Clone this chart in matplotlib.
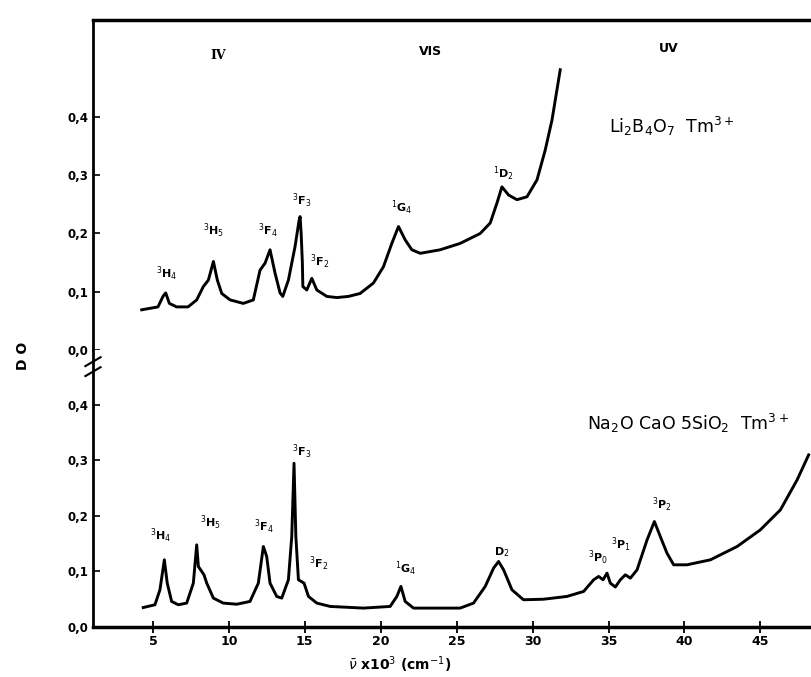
import numpy as np
import matplotlib
matplotlib.use("Agg")
import matplotlib.pyplot as plt

# Li2B4O7:Tm3+ spectrum (upper panel), wavenumber x10^3 cm-1 vs optical density
up_x = [4.26, 5.33, 5.66, 5.84, 6.08, 6.56, 7.31, 7.88, 8.32, 8.65, 8.98, 9.24,
        9.53, 10.08, 10.95, 11.61, 12.05, 12.38, 12.71, 13.04, 13.37, 13.55,
        13.92, 14.36, 14.62, 14.69, 14.76, 14.84, 14.87, 15.13, 15.46, 15.79,
        16.45, 17.11, 17.87, 18.64, 19.52, 20.18, 20.73, 21.17, 21.61, 22.05,
        22.60, 23.91, 25.23, 26.55, 27.21, 27.65, 27.98, 28.42, 28.97, 29.63,
        30.29, 30.83, 31.28, 31.60, 31.82]
up_y = [0.069, 0.074, 0.092, 0.098, 0.080, 0.074, 0.074, 0.086, 0.109, 0.120,
        0.152, 0.120, 0.097, 0.086, 0.080, 0.086, 0.137, 0.149, 0.172, 0.132,
        0.098, 0.092, 0.120, 0.178, 0.222, 0.229, 0.200, 0.149, 0.109, 0.103,
        0.123, 0.103, 0.092, 0.090, 0.092, 0.097, 0.115, 0.143, 0.183, 0.212,
        0.189, 0.172, 0.166, 0.172, 0.183, 0.200, 0.218, 0.252, 0.280, 0.266,
        0.258, 0.263, 0.292, 0.343, 0.395, 0.446, 0.481]

# Na2O CaO 5SiO2:Tm3+ spectrum (lower panel)
lo_x = [4.36, 5.13, 5.46, 5.75, 5.94, 6.23, 6.67, 7.22, 7.66, 7.88, 7.99, 8.36,
        8.54, 8.98, 9.63, 10.52, 11.39, 11.94, 12.27, 12.49, 12.71, 13.15,
        13.48, 13.92, 14.14, 14.29, 14.41, 14.58, 14.95, 15.24, 15.79, 16.67,
        18.86, 20.62, 21.06, 21.33, 21.61, 22.16, 25.23, 26.11, 26.88, 27.43,
        27.76, 28.09, 28.64, 29.40, 30.72, 32.26, 33.36, 34.02, 34.35, 34.64,
        34.90, 35.12, 35.45, 35.78, 36.11, 36.44, 36.88, 37.54, 38.02, 38.41,
        38.85, 39.29, 40.17, 41.71, 43.47, 45.00, 46.32, 47.42, 48.18]
lo_y = [0.035, 0.040, 0.067, 0.121, 0.079, 0.046, 0.040, 0.043, 0.079, 0.148,
        0.109, 0.094, 0.079, 0.052, 0.043, 0.041, 0.046, 0.079, 0.145, 0.127,
        0.079, 0.055, 0.052, 0.085, 0.163, 0.295, 0.163, 0.085, 0.079, 0.055,
        0.043, 0.037, 0.034, 0.037, 0.055, 0.073, 0.046, 0.034, 0.034, 0.043,
        0.073, 0.106, 0.118, 0.103, 0.067, 0.049, 0.050, 0.055, 0.064, 0.085,
        0.091, 0.085, 0.097, 0.079, 0.072, 0.085, 0.094, 0.088, 0.103, 0.157,
        0.190, 0.163, 0.133, 0.112, 0.112, 0.121, 0.145, 0.175, 0.211, 0.265,
        0.310]

# level labels (text, x, y)
up_labels = ["$^3$H$_4$", "$^3$H$_5$", "$^3$F$_4$", "$^3$F$_3$", "$^3$F$_2$",
             "$^1$G$_4$", "$^1$D$_2$"]
up_lab_x = [5.87, 9.02, 12.58, 14.82, 16.0, 21.35, 28.07]
up_lab_y = [0.130, 0.204, 0.204, 0.256, 0.151, 0.244, 0.302]

lo_labels = ["$^3$H$_4$", "$^3$H$_5$", "$^3$F$_4$", "$^3$F$_3$", "$^3$F$_2$",
             "$^1$G$_4$", "D$_2$", "$^3$P$_0$", "$^3$P$_1$", "$^3$P$_2$"]
lo_lab_x = [5.53, 8.76, 12.32, 14.82, 15.94, 21.61, 28.0, 34.33, 35.84, 38.54]
lo_lab_y = [0.164, 0.187, 0.180, 0.315, 0.114, 0.105, 0.135, 0.124, 0.148, 0.220]

x_ticks = [5, 10, 15, 20, 25, 30, 35, 40, 45]
y_ticks = [0.0, 0.1, 0.2, 0.3, 0.4]
y_ticklabels = ["0,0", "0,1", "0,2", "0,3", "0,4"]

fig = plt.figure(figsize=(8.12, 6.77), dpi=100)
ax_up = fig.add_axes([0.1145, 0.483, 0.8855, 0.4875])
ax_lo = fig.add_axes([0.1145, 0.0739, 0.8855, 0.4091])

for ax in (ax_up, ax_lo):
    ax.set_xlim(1.05, 48.4)
    ax.spines['right'].set_visible(False)
    ax.spines['left'].set_linewidth(2)
    ax.set_yticks(y_ticks)
    ax.set_yticklabels(y_ticklabels, fontsize=8.5, fontweight='bold')
    ax.tick_params(axis='y', direction='in', length=5, width=1.2, pad=3)

ax_up.set_ylim(0, 0.5665)
ax_lo.set_ylim(0, 0.499)

ax_up.spines['bottom'].set_visible(False)
ax_up.spines['top'].set_linewidth(2.5)
ax_up.set_xticks([])
ax_lo.spines['top'].set_visible(False)
ax_lo.spines['bottom'].set_linewidth(2.5)
ax_lo.set_xticks(x_ticks)
ax_lo.set_xticklabels([str(t) for t in x_ticks], fontsize=9, fontweight='bold')
ax_lo.tick_params(axis='x', direction='inout', length=8, width=1.3, pad=2)

ax_up.plot(up_x, up_y, color='black', lw=2.1, solid_joinstyle='round')
ax_lo.plot(lo_x, lo_y, color='black', lw=2.1, solid_joinstyle='round')

for t, x, y in zip(up_labels, up_lab_x, up_lab_y):
    ax_up.text(x, y, t, fontsize=8, fontweight='bold', ha='center', va='center')
for t, x, y in zip(lo_labels, lo_lab_x, lo_lab_y):
    ax_lo.text(x, y, t, fontsize=8, fontweight='bold', ha='center', va='center')

# spectral regions
ax_up.text(9.29, 0.506, "IV", fontsize=9, fontweight='bold', ha='center', va='center', family='DejaVu Serif')
ax_up.text(23.3, 0.512, "VIS", fontsize=9, fontweight='bold', ha='center', va='center')
ax_up.text(38.95, 0.518, "UV", fontsize=9, fontweight='bold', ha='center', va='center')

# sample names
ax_up.text(35.0, 0.383, "Li$_2$B$_4$O$_7$  Tm$^{3+}$", fontsize=12.5, ha='left', va='center')
ax_lo.text(33.6, 0.366, "Na$_2$O CaO 5SiO$_2$  Tm$^{3+}$", fontsize=12.5, ha='left', va='center')

# axis break marks on the y axis
for dy in (0.0, 0.018):
    ax_lo.plot([0.55, 1.55], [0.452 + dy, 0.468 + dy], color='black', lw=1.5, clip_on=False)

fig.text(0.492, 0.018, r"$\bar{\nu}$ x10$^3$ (cm$^{-1}$)", fontsize=10, fontweight='bold', ha='center', va='center')
fig.text(0.028, 0.475, "D O", fontsize=10, fontweight='bold', rotation=90, ha='center', va='center')

fig.savefig("out.png", dpi=100)
